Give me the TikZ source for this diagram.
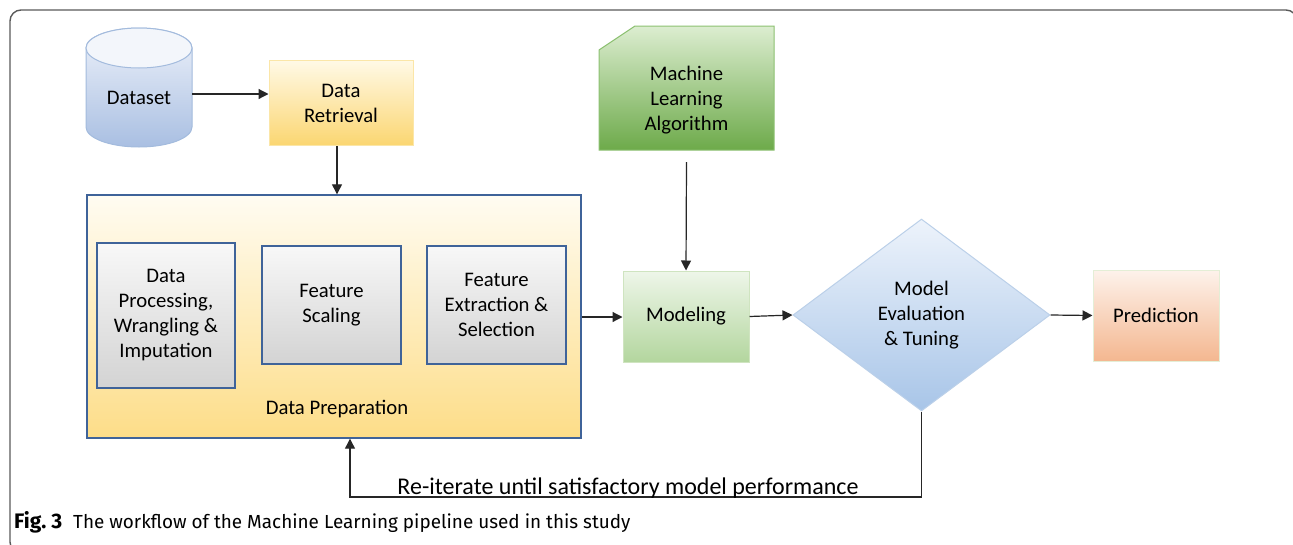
\documentclass[tikz,border=0pt]{standalone}
\usepackage{fontspec}
\setmainfont{Carlito}
\newfontfamily\capfont{Fira Sans}
\usetikzlibrary{shapes.geometric,arrows.meta,calc}

\definecolor{frameC}{HTML}{5A5A5A}
\definecolor{dsTop}{HTML}{EEF2FA}
\definecolor{dsBot}{HTML}{A9BFE2}
\definecolor{dsLine}{HTML}{A3BBDD}
\definecolor{drTop}{HTML}{FFF9E6}
\definecolor{drBot}{HTML}{FBD671}
\definecolor{drLine}{HTML}{FBE6A8}
\definecolor{dpTop}{HTML}{FFFCF2}
\definecolor{dpBot}{HTML}{FDDD88}
\definecolor{dpLine}{HTML}{3F6399}
\definecolor{gTop}{HTML}{F8F8F8}
\definecolor{gBot}{HTML}{D3D3D3}
\definecolor{mlTop}{HTML}{DCEDD0}
\definecolor{mlBot}{HTML}{6DAA4A}
\definecolor{mlLine}{HTML}{8DC172}
\definecolor{moTop}{HTML}{EEF6E9}
\definecolor{moBot}{HTML}{B3D69E}
\definecolor{moLine}{HTML}{CFE4C0}
\definecolor{evTop}{HTML}{EDF3FB}
\definecolor{evBot}{HTML}{A8C5E8}
\definecolor{evLine}{HTML}{BBD0E9}
\definecolor{prTop}{HTML}{FDF2EB}
\definecolor{prBot}{HTML}{F4B790}
\definecolor{prLine}{HTML}{E4EED6}

\tikzset{
  lbl/.style={align=center, font=\fontsize{20.7}{25}\selectfont, text=black},
  box/.style={lbl, draw, line width=1pt, inner sep=0pt},
  graybox/.style={box, draw=dpLine, line width=1.2pt, top color=gTop, bottom color=gBot},
  arr/.style={-{Triangle[length=10pt,width=10pt]}, line width=1.2pt, draw=black!85},
}

\begin{document}
\begin{tikzpicture}[x=1pt, y=-1pt]
\useasboundingbox (0,0) rectangle (1293,544);
\clip (0,0) rectangle (1293,544);
\fill[white] (0,0) rectangle (1293,544);

% outer frame
\draw[frameC, line width=1.4pt, rounded corners=11pt] (10,10) rectangle (1297,553);

% dataset cylinder
\shade[top color=dsTop, bottom color=dsBot, draw=dsLine, line width=1pt]
  (86,48) -- (86,127) arc[start angle=180, end angle=360, x radius=53pt, y radius=20pt]
  -- (192,48) arc[start angle=0, end angle=180, x radius=53pt, y radius=20pt] -- cycle;
\fill[dsTop!70!white] (139,48) ellipse [x radius=53pt, y radius=20pt];
\draw[dsLine, line width=1pt] (139,48) ellipse [x radius=53pt, y radius=20pt];
\node[lbl, minimum width=106pt, minimum height=119pt, inner sep=0pt] (ds) at (139,98) {Dataset};

% data retrieval
\node[box, draw=drLine, top color=drTop, bottom color=drBot,
      minimum width=144pt, minimum height=85pt] (dr) at (341,103) {Data\\Retrieval};

% data preparation container
\node[box, draw=dpLine, line width=1.4pt, top color=dpTop, bottom color=dpBot,
      minimum width=494pt, minimum height=243pt] (dp) at (334,316.5) {};
\node[lbl] (dpl) at (337,409) {Data Preparation};
\node[graybox, minimum width=138pt, minimum height=145pt] (b1) at (166,315.5)
  {Data\\Processing,\\Wrangling \&\\Imputation};
\node[graybox, minimum width=139pt, minimum height=118pt] (b2) at (331.5,305)
  {Feature\\Scaling};
\node[graybox, minimum width=139pt, minimum height=118pt] (b3) at (496.5,305)
  {Feature\\Extraction \&\\Selection};

% machine learning algorithm (snipped corner)
\shade[top color=mlTop, bottom color=mlBot, draw=mlLine, line width=1pt]
  (635,26) -- (774,26) -- (774,150) -- (599,150) -- (599,50) -- cycle;
\node[lbl, minimum width=175pt, minimum height=124pt, inner sep=0pt] (mla) at (686.5,100)
  {Machine\\Learning\\Algorithm};

% modeling
\node[box, draw=moLine, top color=moTop, bottom color=moBot,
      minimum width=126pt, minimum height=91pt] (mo) at (686,316.5) {Modeling};

% evaluation diamond
\node[diamond, lbl, draw=evLine, line width=1pt, top color=evTop, bottom color=evBot,
      minimum width=257pt, minimum height=192pt, inner sep=0pt] (ev) at (921.5,315)
  {Model\\Evaluation\\\& Tuning};

% prediction
\node[box, draw=prLine, top color=prTop, bottom color=prBot,
      minimum width=126pt, minimum height=91pt] (pr) at (1156,315.5) {Prediction};

% connectors
\draw[arr] (ds.east |- 0,94) -- (dr.west |- 0,94);
\draw[arr] (dr.south -| 337,0) -- (dp.north -| 337,0);
\draw[arr] (dp.east |- 0,317) -- (mo.west |- 0,317);
\draw[arr] (mla.south) -- (mo.north);
\draw[arr] (mo.east) -- (ev.west);
\draw[arr] (ev.east) -- (pr.west);
\coordinate (fb) at (350,497);
\draw[arr] (ev.south) |- (fb) -- (dp.south -| fb);

% labels
\node[anchor=base, font=\fontsize{24}{28}\selectfont, inner sep=0pt] (note) at (628,494)
  {Re-iterate until satisfactory model performance};
\node[anchor=west, inner sep=0pt, font=\capfont\fontsize{18.9}{23}\selectfont] (cap) at (14,522)
  {{\fontsize{21}{23}\selectfont\bfseries Fig.\ 3}\hspace{11pt}The workflow of the Machine Learning pipeline used in this study};
\end{tikzpicture}
\end{document}
